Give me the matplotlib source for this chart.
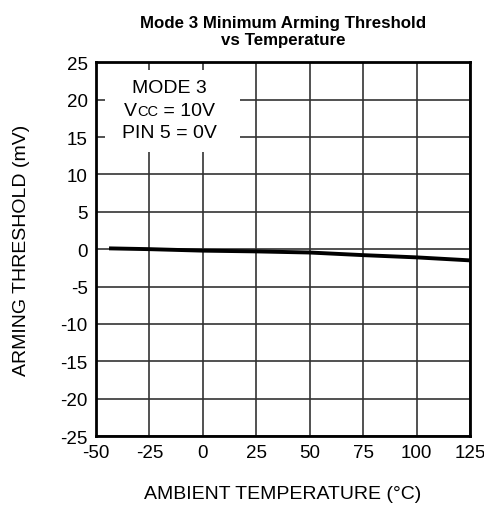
import matplotlib.pyplot as plt
from matplotlib.patches import Rectangle
from matplotlib.offsetbox import TextArea, HPacker, VPacker, AnnotationBbox

plt.rcParams['font.family'] = ['Liberation Sans', 'DejaVu Sans']
plt.rcParams['axes.unicode_minus'] = False

temp = [-43, -25, 0, 25, 50, 75, 100, 125]
threshold = [0.1, 0.0, -0.2, -0.3, -0.45, -0.8, -1.1, -1.5]
xticks = [-50, -25, 0, 25, 50, 75, 100, 125]
yticks = [-25, -20, -15, -10, -5, 0, 5, 10, 15, 20, 25]

fig = plt.figure(figsize=(4.85, 5.1), dpi=100)
ax = fig.add_axes([0.198, 0.143, 0.771, 0.733])

ax.plot(temp, threshold, color='black', lw=2.8, zorder=3)
ax.set_xlim(-50, 125)
ax.set_ylim(-25, 25)
ax.set_xticks(xticks)
ax.set_yticks(yticks)
ax.grid(True, color='#333333', lw=1.2)
ax.tick_params(length=0, labelsize=13.5, pad=6)
for s in ax.spines.values():
    s.set_linewidth(2)
    s.set_zorder(4)

ax.set_xlabel('AMBIENT TEMPERATURE (°C)', fontsize=14, labelpad=17)
ax.set_ylabel('ARMING THRESHOLD (mV)', fontsize=14, labelpad=22)
ax.set_title('Mode 3 Minimum Arming Threshold\nvs Temperature',
             fontsize=12.2, fontweight='bold', linespacing=1.2, pad=13)

# white box behind the note
ax.add_patch(Rectangle((-46, 13), 63.5, 11, facecolor='white',
                       edgecolor='none', zorder=2))

sz = 14
line1 = TextArea('MODE 3', textprops=dict(size=sz))
line2 = HPacker(children=[TextArea('V', textprops=dict(size=sz)),
                          TextArea('CC', textprops=dict(size=10.5)),
                          TextArea(' = 10V', textprops=dict(size=sz))],
                align='baseline', pad=0, sep=0)
line3 = TextArea('PIN 5 = 0V', textprops=dict(size=sz))
box = VPacker(children=[line1, line2, line3], align='center', pad=0, sep=4)
ab = AnnotationBbox(box, (-15.5, 18.6), xycoords='data', frameon=False,
                    zorder=2.5)
ax.add_artist(ab)

fig.savefig('out.png', dpi=100)
